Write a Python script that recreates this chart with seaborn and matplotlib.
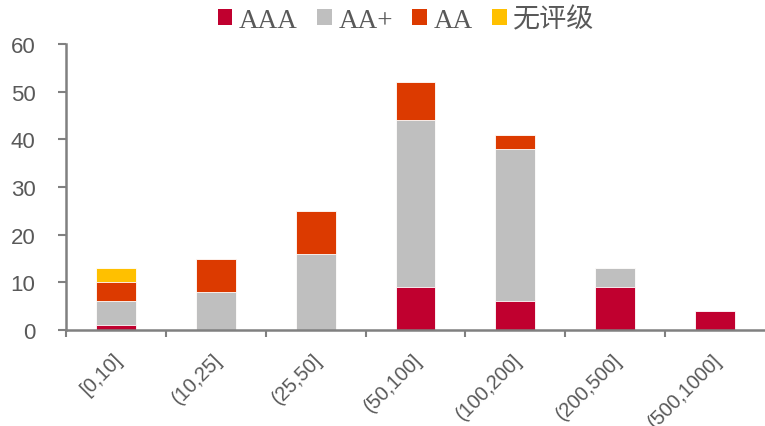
import matplotlib
matplotlib.use("Agg")
import matplotlib.pyplot as plt
import matplotlib.transforms as mtransforms
import seaborn as sns
import numpy as np
import pandas as pd
from matplotlib.patches import Patch

categories = ["[0,10]", "(10,25]", "(25,50]", "(50,100]", "(100,200]", "(200,500]", "(500,1000]"]
aaa = [1, 0, 0, 9, 6, 9, 4]
aa_plus = [5, 8, 16, 35, 32, 4, 0]
aa = [4, 7, 9, 8, 3, 0, 0]
unrated = [3, 0, 0, 0, 0, 0, 0]
series_names = ["AAA", "AA+", "AA", "无评级"]
colors = ["#C0002F", "#BFBFBF", "#DC3A00", "#FFC000"]

sns.set_style("white")
plt.rcParams['font.family'] = ['Liberation Sans', 'Noto Sans CJK SC']

fig = plt.figure(figsize=(7.65, 4.27), dpi=100)
ax = fig.add_axes([0.0863, 0.2248, 0.9137, 0.6698])

series = [aaa, aa_plus, aa, unrated]
cum = np.cumsum(np.array(series, dtype=float), axis=0)
# draw from tallest cumulative to smallest so each layer shows
for i in range(len(series) - 1, -1, -1):
    df = pd.DataFrame({"cat": categories, "val": cum[i]})
    sns.barplot(data=df, x="cat", y="val", color=colors[i], width=0.4,
                edgecolor="white", linewidth=0.6, saturation=1, ax=ax)

ax.set_xlim(-0.5, len(categories) - 0.5)
ax.set_ylim(0, 60)
ax.set_yticks(range(0, 61, 10))
ax.set_xlabel("")
ax.set_ylabel("")
ax.set_xticks(np.arange(-0.5, len(categories) - 0.5, 1), minor=False)
ax.set_xticklabels([])
ax.set_xticks(np.arange(len(categories)), minor=True)
ax.set_xticklabels(categories, minor=True, rotation=45, ha="right", rotation_mode="anchor",
                   fontsize=14.5, color="#595959")
ax.tick_params(axis="x", which="minor", bottom=True, length=0, pad=14)
ax.tick_params(axis="x", which="major", bottom=True, length=5, width=1.5,
               color="#808080", direction="out")
ax.tick_params(axis="y", left=True, length=6, width=1.5, color="#808080", direction="out",
               labelsize=16, labelcolor="#595959", pad=16)
offset = mtransforms.ScaledTranslation(-3 / 100, 0, fig.dpi_scale_trans)
for lab in ax.get_xticklabels(minor=True):
    lab.set_transform(lab.get_transform() + offset)
for s in ["top", "right"]:
    ax.spines[s].set_visible(False)
for s in ["left", "bottom"]:
    ax.spines[s].set_color("#808080")
    ax.spines[s].set_linewidth(1.8)

handles = [Patch(facecolor=c, edgecolor="none") for c in colors]
leg = fig.legend(handles, series_names, loc="center", bbox_to_anchor=(0.531, 0.951), ncol=4,
                 frameon=False, handlelength=0.53, handleheight=0.53, handletextpad=0.25,
                 columnspacing=0.72,
                 prop={"family": ["Liberation Serif", "Noto Sans CJK SC"], "size": 19.5})
for t in leg.get_texts():
    t.set_color("#595959")

fig.savefig("out.png", dpi=100)
